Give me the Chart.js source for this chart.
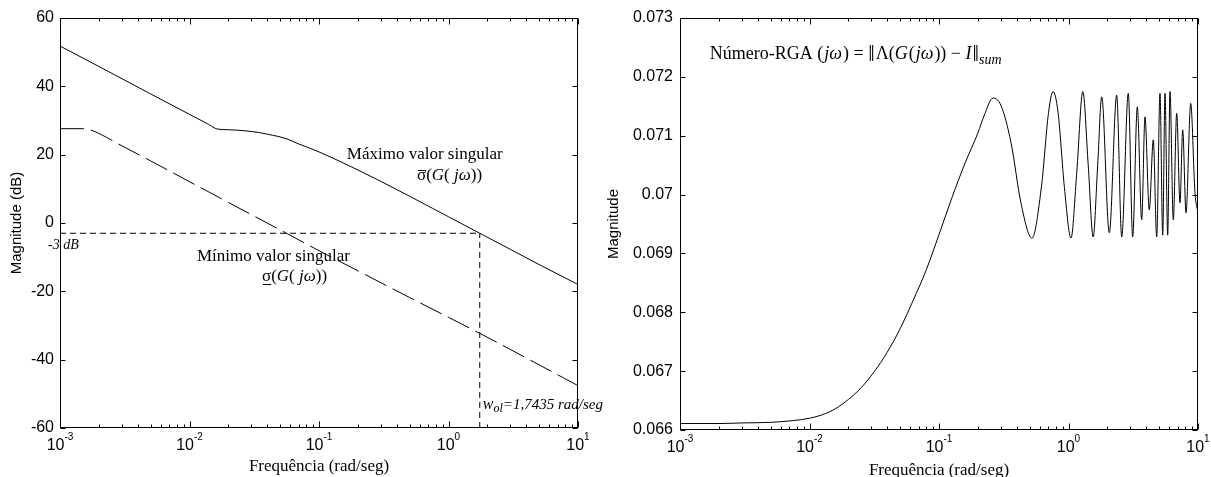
<!DOCTYPE html>
<html><head><meta charset="utf-8">
<script src="https://cdn.jsdelivr.net/npm/chart.js@4.4.1/dist/chart.umd.min.js"></script>
<style>
html,body{margin:0;padding:0;background:#fff;width:1211px;height:477px;overflow:hidden;position:relative}
canvas{position:absolute;top:0}
#c1{left:0}
#c2{left:600px}
</style></head>
<body>
<canvas id="c1" width="606" height="477"></canvas>
<canvas id="c2" width="611" height="477"></canvas>
<script>
// ---------- data ----------
const maxOmega = [0.001,0.002,0.005,0.01,0.014,0.0164,0.02,0.03,0.04,0.0566,0.07,0.085,0.1,0.128,0.2,0.3,0.5,0.75,1,1.7435,3,5,10];
const maxSingularDb = [51.8,45.8,37.8,31.8,28.9,27.5,27.3,26.8,26.0,24.6,23.1,21.9,20.8,19.0,15.5,12.2,7.85,4.33,1.83,-3,-7.7,-12.15,-18.0];
const minOmega = [0.001,0.0015,0.0017,0.002,0.003,0.005,0.01,0.02,0.05,0.1,0.2,0.5,1,1.7435,3,5,10];
const minSingularDb = [27.6,27.6,27.3,26.2,22.6,18.2,12.1,6.0,-2.0,-8.1,-14.0,-21.8,-27.6,-32.3,-37,-41.5,-47.6];
const wol = 1.7435;
const cutoffDb = -3;

const rgaOmega = [0.001,0.002,0.003,0.005,0.0075,0.01,0.0126,0.0158,0.02,0.0251,0.0316,0.0398,0.0501,0.0631,0.0794,0.1,0.126,0.158,0.2,0.224,0.261,0.30,0.36,0.43,0.522,0.62,0.70,0.76,0.83,0.93,1.045,1.16,1.29,1.42,1.55,1.68,1.805,2.066,2.356,2.576,2.896,3.131,3.399,3.675,3.896,4.206,4.516,4.798,5.088,5.339,5.562,5.834,6.078,6.446,6.847,7.261,7.620,8.079,8.783,9.48,10];
const rgaValue = [0.06611,0.06611,0.06612,0.06613,0.06616,0.06620,0.06626,0.06636,0.06652,0.06672,0.06699,0.06732,0.06772,0.06820,0.06871,0.06932,0.06995,0.07052,0.07105,0.07135,0.07164,0.07152,0.07088,0.06985,0.06926,0.07016,0.07138,0.07175,0.07140,0.07012,0.06926,0.07040,0.07175,0.07050,0.06928,0.07050,0.07166,0.06935,0.07169,0.06928,0.07172,0.06928,0.07149,0.06957,0.07132,0.06974,0.07093,0.06928,0.07172,0.06931,0.07172,0.06931,0.07175,0.06957,0.07138,0.06986,0.07110,0.06969,0.07155,0.07003,0.06969];

const xTickValues = [0.001,0.01,0.1,1,10];
const xTickExponents = ['-3','-2','-1','0','1'];
const leftYTicks = [-60,-40,-20,0,20,40,60];
const rightYTicks = [0.066,0.067,0.068,0.069,0.070,0.071,0.072,0.073];
const rightYTickLabels = ['0.066','0.067','0.068','0.069','0.07','0.071','0.072','0.073'];

// ---------- helpers ----------
const SERIF = '"Liberation Serif","Times New Roman",serif';
const SANS = '"Liberation Sans",Arial,sans-serif';
const xMinorTicks = [];
for (let e = -3; e <= 1; e++) for (let m = 1; m <= 9; m++) { const v = m * Math.pow(10, e); if (v <= 10.0001) xMinorTicks.push({v, major: m === 1}); }
const pts = (xs, ys) => xs.map((v, i) => ({x: v, y: ys[i]}));

function drawRich(ctx, x, y, segs) {
  let cx = x;
  ctx.textAlign = 'left'; ctx.textBaseline = 'alphabetic'; ctx.fillStyle = '#000';
  for (const s of segs) {
    ctx.font = s.f;
    const w = ctx.measureText(s.t).width;
    ctx.fillText(s.t, cx, y + (s.dy || 0));
    if (s.bar) {
      const by = s.bar === 'over' ? Math.round(y - s.size * 0.6) + 0.5 : Math.round(y + 3) + 0.5;
      ctx.beginPath(); ctx.lineWidth = 1; ctx.strokeStyle = '#000';
      ctx.moveTo(cx + 1, by); ctx.lineTo(cx + w, by); ctx.stroke();
    }
    cx += w + (s.gap || 0);
  }
  return cx;
}

function drawFrame(chart, yTicks, titleBaseline) {
  const {ctx, chartArea: a, scales: {x, y}} = chart;
  ctx.save();
  ctx.strokeStyle = '#000'; ctx.lineWidth = 1;
  const L = Math.round(a.left) + 0.5, R = Math.round(a.right) - 0.5, T = Math.round(a.top) + 0.5, B = Math.round(a.bottom) - 0.5;
  ctx.strokeRect(L, T, R - L, B - T);
  ctx.beginPath();
  for (const t of xMinorTicks) {
    const px = Math.round(x.getPixelForValue(t.v)) + 0.5;
    const len = t.major ? 6 : 3;
    ctx.moveTo(px, B); ctx.lineTo(px, B - len);
    ctx.moveTo(px, T); ctx.lineTo(px, T + len);
  }
  for (const v of yTicks) {
    const py = Math.round(y.getPixelForValue(v)) + 0.5;
    ctx.moveTo(L, py); ctx.lineTo(L + 5, py);
    ctx.moveTo(R, py); ctx.lineTo(R - 5, py);
  }
  ctx.stroke();
  ctx.fillStyle = '#000'; ctx.textAlign = 'left'; ctx.textBaseline = 'alphabetic';
  xTickValues.forEach((v, i) => {
    const px = x.getPixelForValue(v);
    ctx.font = '16px ' + SANS; const w1 = ctx.measureText('10').width;
    ctx.font = '10px ' + SANS; const w2 = ctx.measureText(xTickExponents[i]).width;
    const start = px - (w1 + w2) / 2;
    ctx.font = '16px ' + SANS; ctx.fillText('10', start, a.bottom + 22);
    ctx.font = '10px ' + SANS; ctx.fillText(xTickExponents[i], start + w1, a.bottom + 12);
  });
  ctx.font = '17px ' + SERIF; ctx.textAlign = 'center';
  ctx.fillText('Frequência (rad/seg)', (a.left + a.right) / 2, titleBaseline);
  ctx.restore();
}

const S17 = '17px ' + SERIF, I17 = 'italic 17px ' + SERIF;
const S18 = '18px ' + SERIF, I18 = 'italic 18px ' + SERIF;

const leftPlugin = {
  id: 'leftDecor',
  afterDraw(chart) {
    const {ctx, chartArea: a, scales: {x, y}} = chart;
    drawFrame(chart, leftYTicks, 471);
    ctx.save();
    drawRich(ctx, x.getPixelForValue(0.164), y.getPixelForValue(18.7), [{t: 'Máximo valor singular', f: S17}]);
    drawRich(ctx, x.getPixelForValue(0.571), y.getPixelForValue(12.6), [
      {t: 'σ', f: S17, bar: 'over', size: 17}, {t: '(', f: S17}, {t: 'G', f: I17}, {t: '( ', f: S17}, {t: 'jω', f: I17}, {t: '))', f: S17}]);
    drawRich(ctx, x.getPixelForValue(0.01142), y.getPixelForValue(-11.1), [{t: 'Mínimo valor singular', f: S17}]);
    drawRich(ctx, x.getPixelForValue(0.0363), y.getPixelForValue(-17.0), [
      {t: 'σ', f: S17, bar: 'under', size: 17}, {t: '(', f: S17}, {t: 'G', f: I17}, {t: '( ', f: S17}, {t: 'jω', f: I17}, {t: '))', f: S17}]);
    drawRich(ctx, a.left - 12, y.getPixelForValue(-7.6), [{t: '-3 dB', f: 'italic 14px ' + SERIF}]);
    drawRich(ctx, x.getPixelForValue(wol) + 3, y.getPixelForValue(-54.4), [
      {t: 'w', f: 'italic 16px ' + SERIF}, {t: 'ol', f: 'italic 12px ' + SERIF, dy: 3}, {t: '=1,7435 rad/seg', f: 'italic 15px ' + SERIF}]);
    ctx.restore();
  }
};

const rightPlugin = {
  id: 'rightDecor',
  afterDraw(chart) {
    const {ctx, scales: {x, y}} = chart;
    drawFrame(chart, rightYTicks, 475);
    ctx.save();
    drawRich(ctx, x.getPixelForValue(0.0017), y.getPixelForValue(0.0723), [
      {t: 'Número-RGA (', f: S18, gap: 1}, {t: 'jω', f: I18, gap: 1}, {t: ') = ', f: S18}, {t: '‖', f: '23px ' + SERIF, dy: 2, gap: 1},
      {t: 'Λ(', f: S18}, {t: 'G', f: I18, gap: 1}, {t: '(', f: S18, gap: 1},
      {t: 'jω', f: I18, gap: 1}, {t: ')) − ', f: S18}, {t: 'I', f: I18, gap: 1}, {t: '‖', f: '23px ' + SERIF, dy: 2}, {t: 'sum', f: 'italic 14px ' + SERIF, dy: 5}]);
    ctx.restore();
  }
};

function xScale(h) {
  return {type: 'logarithmic', min: 0.001, max: 10, display: true,
    grid: {display: false, drawTicks: false}, border: {display: false}, ticks: {display: false},
    afterFit: s => { s.height = h; }};
}

new Chart(document.getElementById('c1'), {
  type: 'line',
  data: {datasets: [
    {data: pts(maxOmega, maxSingularDb), borderColor: '#000', borderWidth: 1, pointRadius: 0, cubicInterpolationMode: 'monotone', fill: false},
    {data: pts(minOmega, minSingularDb), borderColor: '#000', borderWidth: 1, borderDash: [24, 7], pointRadius: 0, cubicInterpolationMode: 'monotone', fill: false},
    {data: [{x: 0.001, y: cutoffDb}, {x: wol, y: cutoffDb}], borderColor: '#000', borderWidth: 1, borderDash: [6, 4], pointRadius: 0, tension: 0},
    {data: [{x: wol, y: -60}, {x: wol, y: cutoffDb}], borderColor: '#000', borderWidth: 1, borderDash: [6, 4], pointRadius: 0, tension: 0}
  ]},
  options: {
    responsive: false, animation: false, devicePixelRatio: 1,
    layout: {padding: {top: 18, right: 28, bottom: 0, left: 0}},
    plugins: {legend: {display: false}, tooltip: {enabled: false}},
    scales: {
      x: xScale(49),
      y: {type: 'linear', min: -60, max: 60,
        afterBuildTicks: s => { s.ticks = leftYTicks.map(v => ({value: v})); },
        ticks: {color: '#000', font: {family: SANS, size: 16}, padding: 6},
        grid: {display: false, drawTicks: false}, border: {display: false},
        title: {display: true, text: 'Magnitude (dB)', color: '#000', font: {family: SANS, size: 15}, padding: {top: 8, bottom: 0}},
        afterFit: s => { s.width = 60; }}
    }
  },
  plugins: [leftPlugin]
});

new Chart(document.getElementById('c2'), {
  type: 'line',
  data: {datasets: [
    {data: pts(rgaOmega, rgaValue), borderColor: '#000', borderWidth: 1, pointRadius: 0, cubicInterpolationMode: 'monotone', fill: false}
  ]},
  options: {
    responsive: false, animation: false, devicePixelRatio: 1,
    layout: {padding: {top: 18, right: 13, bottom: 0, left: 0}},
    plugins: {legend: {display: false}, tooltip: {enabled: false}},
    scales: {
      x: xScale(47),
      y: {type: 'linear', min: 0.066, max: 0.073,
        afterBuildTicks: s => { s.ticks = rightYTicks.map(v => ({value: v})); },
        ticks: {color: '#000', font: {family: SANS, size: 16}, padding: 7,
          callback: (v) => { const i = rightYTicks.findIndex(t => Math.abs(t - v) < 1e-9); return i >= 0 ? rightYTickLabels[i] : ''; }},
        grid: {display: false, drawTicks: false}, border: {display: false},
        title: {display: true, text: 'Magnitude', color: '#000', font: {family: SANS, size: 15}, padding: {top: 5, bottom: 0}},
        afterFit: s => { s.width = 80; }}
    }
  },
  plugins: [rightPlugin]
});
</script>
</body></html>
